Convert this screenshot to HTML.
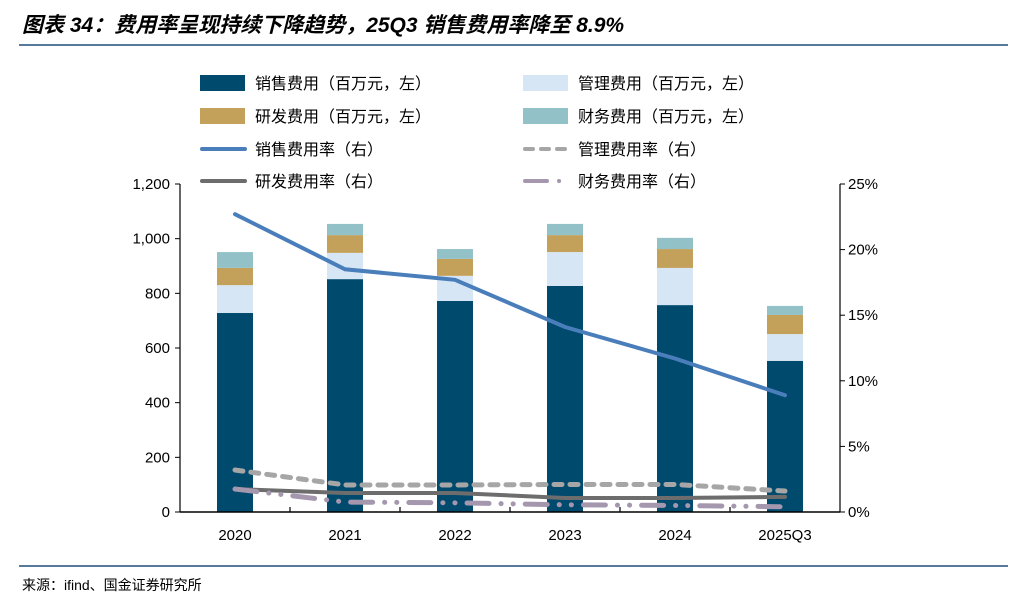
<!DOCTYPE html>
<html><head><meta charset="utf-8"><style>
body{margin:0;background:#fff;width:1028px;height:606px;overflow:hidden;font-family:"Liberation Sans","Noto Sans CJK SC",sans-serif}
</style></head><body>
<svg id="c" width="1028" height="606" xmlns="http://www.w3.org/2000/svg">
<text x="22" y="32" font-size="21" font-weight="bold" font-style="italic" fill="#000" font-family="Liberation Sans,Noto Sans CJK SC,sans-serif">图表 34：费用率呈现持续下降趋势，25Q3 销售费用率降至 8.9%</text>
<line x1="19" y1="45" x2="1008" y2="45" stroke="#1f4e79" stroke-width="1.5"/>
<line x1="19" y1="566" x2="1008" y2="566" stroke="#1f4e79" stroke-width="1.5"/>
<text x="22" y="590" font-size="14" fill="#000" font-family="Liberation Sans,Noto Sans CJK SC,sans-serif">来源：ifind、国金证券研究所</text>
<g id="legend" font-size="16" font-family="Liberation Sans,Noto Sans CJK SC,sans-serif"></g>
<g id="plot"></g>
</svg>
<script>
const categories=["2020","2021","2022","2023","2024","2025Q3"];
const sales=[728,852,772,827,757,553];
const mgmt=[102,96,92,124,136,98];
const rd=[63,65,62,62,69,70];
const fin=[58,41,36,41,41,33];
const salesRate=[22.7,18.5,17.7,14.1,11.7,8.9];
const mgmtRate=[3.2,2.06,2.06,2.1,2.1,1.6];
const rdRate=[1.75,1.45,1.45,1.07,1.07,1.15];
const finRate=[1.75,0.76,0.7,0.55,0.5,0.4];
const leftTicks=[0,200,400,600,800,1000,1200];
const rightTicks=[0,5,10,15,20,25];
const NS="http://www.w3.org/2000/svg";
const X0=180,X1=840,Y0=512,Y1=184;
const band=(X1-X0)/categories.length;
const xc=i=>X0+band*(i+0.5);
const yL=v=>Y0-(v/1200)*(Y0-Y1);
const yR=v=>Y0-(v/25)*(Y0-Y1);
const plot=document.getElementById('plot');
function mk(tag,attrs,parent){const e=document.createElementNS(NS,tag);for(const k in attrs)e.setAttribute(k,attrs[k]);(parent||plot).appendChild(e);return e;}
const colors={sales:"#004a6e",mgmt:"#d7e6f5",rd:"#c4a15a",fin:"#92c2c7"};
const series=[[sales,colors.sales,"sales"],[mgmt,colors.mgmt,"mgmt"],[rd,colors.rd,"rd"],[fin,colors.fin,"fin"]];
categories.forEach((c,i)=>{
  let base=0;
  series.forEach(([arr,col,nm])=>{
    const r=mk('rect',{x:xc(i)-18,y:yL(base+arr[i]),width:36,height:yL(base)-yL(base+arr[i]),fill:col});
    
    
    base+=arr[i];
  });
  const t=mk('text',{x:xc(i),y:Y0+28,'text-anchor':'middle','font-size':15});
  t.textContent=c;
  
  
  if(i>0){const tk=mk('line',{x1:X0+band*i,x2:X0+band*i,y1:Y0,y2:Y0-5,stroke:'#000','stroke-width':1.2});
  }
});
function line(arr,col,w,dash,nm){
  const p=mk('polyline',{points:arr.map((v,i)=>xc(i)+','+yR(v)).join(' '),fill:'none',stroke:col,'stroke-width':w,'stroke-linecap':'round','stroke-dasharray':dash||'none'});
  
  
}
line(mgmtRate,'#a6a6a6',5,'8 8','line-mgmt-rate');
line(rdRate,'#6d6d6d',4,'','line-rd-rate');
line(finRate,'#a597ad',5,'22 12 0.1 12 0.1 12','line-fin-rate');
line(salesRate,'#4a7ebb',4,'','line-sales-rate');
// axes
let a=mk('line',{x1:X0,x2:X0,y1:Y1,y2:Y0,stroke:'#000','stroke-width':1.2});
a=mk('line',{x1:X1,x2:X1,y1:Y1,y2:Y0,stroke:'#000','stroke-width':1.2});
a=mk('line',{x1:X0,x2:X1,y1:Y0,y2:Y0,stroke:'#000','stroke-width':1.5});
leftTicks.forEach(v=>{
  const tk=mk('line',{x1:X0-5,x2:X0,y1:yL(v),y2:yL(v),stroke:'#000'});
  
  const t=mk('text',{x:X0-10,y:yL(v)+5,'text-anchor':'end','font-size':15});
  t.textContent=v.toLocaleString('en-US');
  
});
rightTicks.forEach(v=>{
  const tk=mk('line',{x1:X1,x2:X1+5,y1:yR(v),y2:yR(v),stroke:'#000'});
  
  const t=mk('text',{x:X1+8,y:yR(v)+5,'font-size':15});
  t.textContent=v+'%';
  
});
// legend
const lg=document.getElementById('legend');
const items=[
 [200,83,'rect',colors.sales,'','销售费用（百万元，左）'],[523,83,'rect',colors.mgmt,'','管理费用（百万元，左）'],
 [200,116,'rect',colors.rd,'','研发费用（百万元，左）'],[523,116,'rect',colors.fin,'','财务费用（百万元，左）'],
 [200,149,'line','#4a7ebb','','销售费用率（右）'],[523,149,'line','#a6a6a6','8 8','管理费用率（右）'],
 [200,181,'line','#6d6d6d','','研发费用率（右）'],[523,181,'line','#a597ad','22 12 0.1 12','财务费用率（右）']];
items.forEach(([x,y,kind,col,dash,label])=>{
  let s;
  if(kind==='rect') s=mk('rect',{x:x,y:y-8,width:45,height:16,fill:col},lg);
  else s=mk('line',{x1:x+2,x2:x+45,y1:y,y2:y,stroke:col,'stroke-width':4,'stroke-linecap':'round','stroke-dasharray':dash||'none'},lg);
  
  
  const t=mk('text',{x:x+55,y:y+6},lg);
  t.textContent=label;
  
  
});
</script>
</body></html>
